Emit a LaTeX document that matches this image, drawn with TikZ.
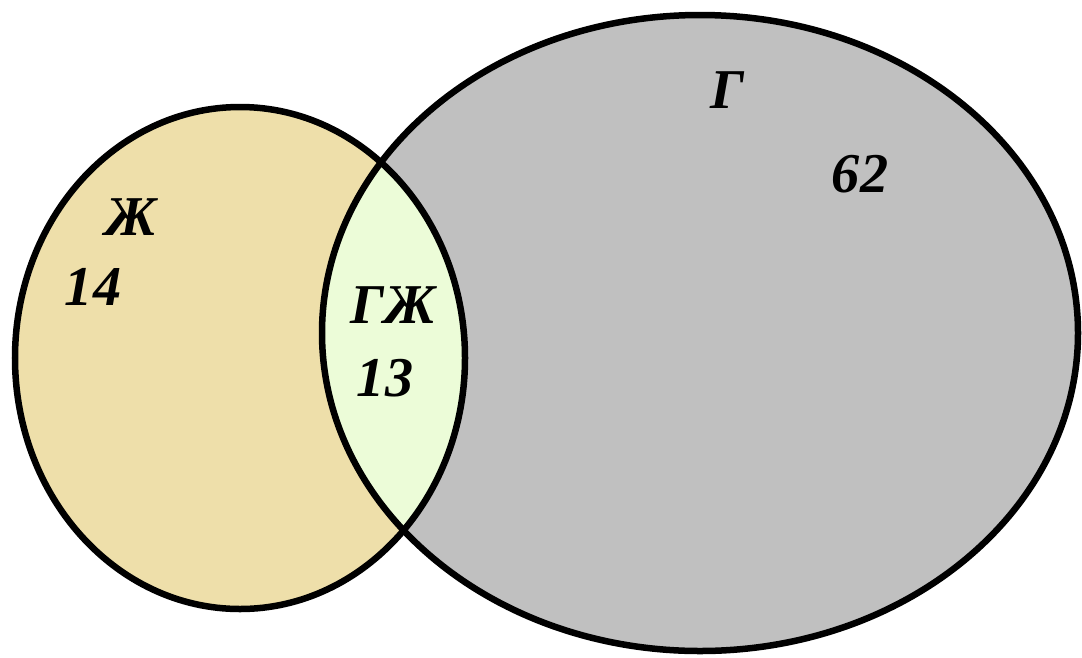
\documentclass[tikz,border=0pt]{standalone}
\usepackage{fontspec}
\setmainfont{Liberation Serif}
\usetikzlibrary{positioning}
\definecolor{wheatfill}{RGB}{238, 223, 170}
\definecolor{mintfill}{RGB}{236, 252, 216}
\definecolor{greyfill}{RGB}{192, 192, 192}

\begin{document}
\begin{tikzpicture}[x=0.02cm, y=-0.02cm,
    setlabel/.style={font=\fontsize{32}{36}\selectfont\bfseries\itshape, inner sep=0pt}]
                \useasboundingbox (0,0) rectangle (1082,657);
                
                % Set fills
                \fill[wheatfill] (240,358) ellipse [x radius=225, y radius=251];
                \fill[greyfill] (700,333) ellipse [x radius=378, y radius=318];
                \begin{scope}
                    \clip (240,358) ellipse [x radius=225, y radius=251];
                    \fill[mintfill] (700,333) ellipse [x radius=378, y radius=318];
                \end{scope}
                
                % Outlines
                \draw[line width=3.7pt] (240,358) ellipse [x radius=225, y radius=251];
                \draw[line width=3.7pt] (700,333) ellipse [x radius=378, y radius=318];
                
                % Labels
                \node[setlabel] (zh) at (131,217) {Ж};
                \node[setlabel] (zhnum) at (93,287) {14};
                \node[setlabel] (gzh) at (393,305) {ГЖ};
                \node[setlabel] (gzhnum) at (385,378) {13};
                \node[setlabel] (g) at (727,90) {Г};
                \node[setlabel] (gnum) at (860,174) {62};
            \end{tikzpicture}
\end{document}
